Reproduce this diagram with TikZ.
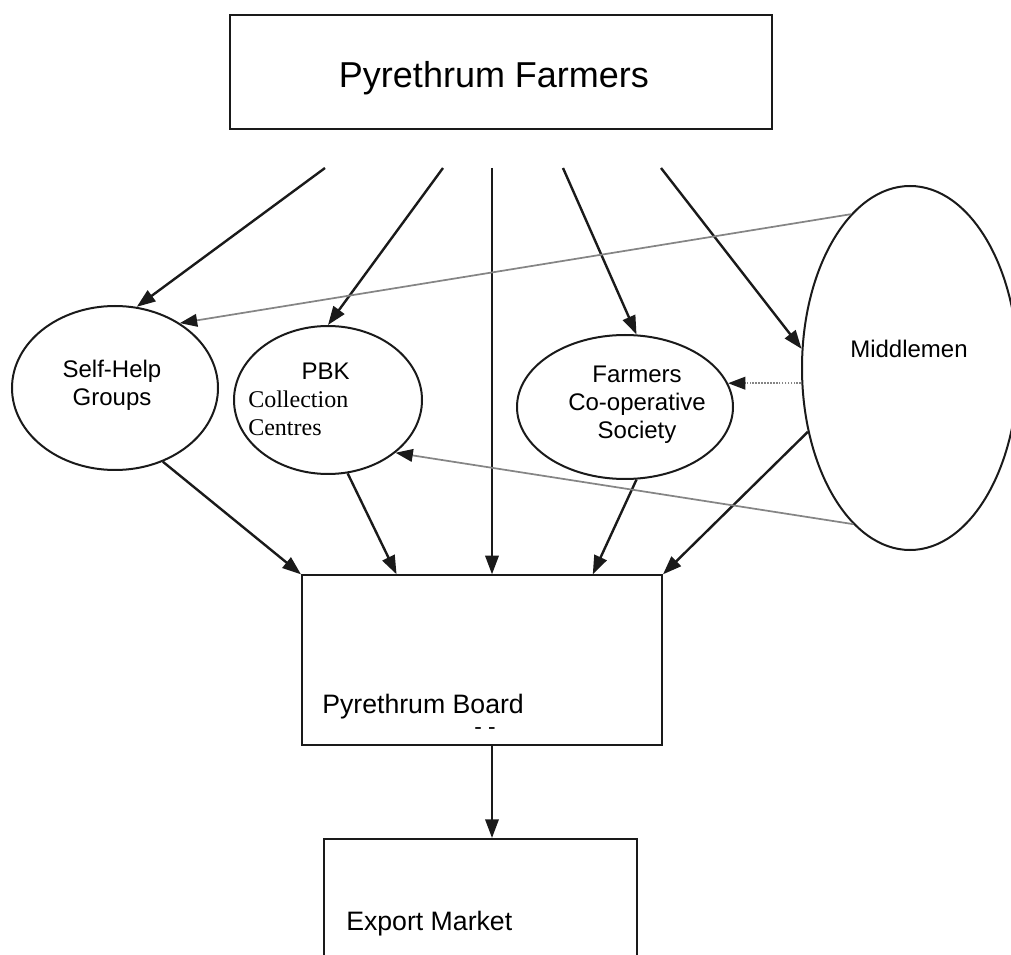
\documentclass[tikz,border=0pt]{standalone}
\usepackage{fontspec}
\setmainfont{Liberation Sans}
\newfontfamily\timesfont{Liberation Serif}
\usetikzlibrary{positioning,arrows.meta,shapes.geometric,calc}
\definecolor{ink}{HTML}{1A1A1A}
\definecolor{faint}{HTML}{858585}

\begin{document}
\begin{tikzpicture}[x=0.75pt, y=-0.75pt,
  font=\fontsize{18}{21}\selectfont,
  >={Triangle[length=14pt,width=10pt]},
  block/.style={draw=ink, line width=1.5pt, inner sep=0pt},
  group/.style={draw=ink, ellipse, line width=1.5pt, inner sep=0pt},
  tag/.style={inner sep=0pt, align=center},
  link/.style={->, draw=ink, line width=1.8pt},
  side/.style={-{Triangle[length=13pt,width=9.5pt,color=ink]}, draw=faint, line width=1.3pt}
  ]
\path[use as bounding box, clip] (0,0) rectangle (1011,955);

% farmers on top
\node[block, minimum width=406.5pt, minimum height=85.5pt] (farmers) at (501,72) {};
\node[tag, font=\fontsize{27}{32}\selectfont] (farmerstxt) at (494,78) {Pyrethrum Farmers};
\coordinate (s1) at (325,168);
\coordinate (s2) at (443,168);
\coordinate (s3) at (492,168);
\coordinate (s4) at (563,168);
\coordinate (s5) at (661,168);

% buying channels
\node[group, minimum width=154.5pt, minimum height=123pt] (shg) at (115,388) {};
\node[tag] (shgtxt) at (112,385) {Self-Help\\Groups};
\node[group, minimum width=141pt, minimum height=111pt] (pbk) at (328,400) {};
\node[tag, align=left, anchor=north west] (pbktxt) at (248,363) {\hspace*{40pt}PBK\\{\timesfont Collection}\\{\timesfont Centres}};
\node[group, minimum width=162pt, minimum height=108pt] (farm) at (625,407) {};
\node[tag] (farmtxt) at (637,405) {Farmers\\Co-operative\\Society};
\node[group, minimum width=162pt, minimum height=273pt] (mid) at (910,368) {};
\node[tag] (midtxt) at (909,349) {Middlemen};

% board and market
\node[block, minimum width=270pt, minimum height=127pt] (board) at (482,660) {};
\node[tag, anchor=base west, font=\fontsize{20}{24}\selectfont] (boardtxt) at (322,713) {Pyrethrum Board};
\node[tag, font=\fontsize{17}{20}\selectfont] (dash) at (485,731) {- -};
\node[block, minimum width=234.75pt, minimum height=120pt] (export) at (480.5,919) {};
\node[tag, anchor=base west, font=\fontsize{20}{24}\selectfont] (exporttxt) at (346,930) {Export Market};

% from the farmers
\draw[link] (s1) -- (shg.75);
\draw[link] (s2) -- (pbk.north);
\draw[link] (s3) -- (s3 |- board.north);
\draw[link] (s4) -- (farm.81);
\draw[link] (s5) -- (mid.170);

% into the board
\draw[link] (shg.303) -- (board.north west);
\draw[link] (pbk.285) -- ($(board.north west)!.264!(board.north east)$);
\draw[link] (farm.279) -- ($(board.north west)!.806!(board.north east)$);
\draw[link] (mid.212) -- (board.north east);
\draw[link] (s3 |- board.south) -- (s3 |- export.north);

% middlemen sell on
\draw[side] (mid.111) -- (shg.45);
\draw[side] (mid.250) -- (pbk.322);
\draw[side, dash pattern=on 1.2pt off 1pt] (farm.13 -| mid.west) -- (farm.13);
\end{tikzpicture}
\end{document}
